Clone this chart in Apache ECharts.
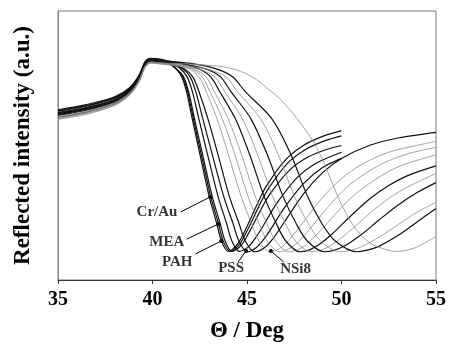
<!DOCTYPE html>
<html>
<head>
<meta charset="utf-8">
<script src="https://cdn.jsdelivr.net/npm/echarts@6/dist/echarts.min.js"></script>
<style>
  html, body { margin: 0; padding: 0; background: #fff; }
  #chart { width: 449px; height: 348px; }
</style>
</head>
<body>
<div id="chart"></div>
<script>
// angle (deg) vs reflected intensity (a.u., 0-100)
const crAu = [[35,62.7],[36.5,64.6],[38,67.6],[38.8,71.2],[39.3,75.8],[39.6,80.7],[39.9,82.1],[40.4,81.8],[40.9,80.6],[41.25,78.6],[41.55,75.5],[41.8,70],[42.1,60],[42.5,47],[43.0,31],[43.4,21],[43.65,14.5],[44.0,10.6],[44.5,13.3],[45,19.9],[45.5,27.6],[46,34.6],[47,44.4],[48,50.1],[49,53.4],[50,55.5]]
const mea = [[35,62.1],[36.5,64.0],[38,67.0],[38.8,70.7],[39.3,75.4],[39.6,80.4],[39.9,81.8],[40.4,81.5],[40.9,80.5],[41.24,78.5],[41.6,75.5],[41.86,70],[42.16,60],[42.57,47],[43.08,31],[43.49,21],[43.74,14.5],[44.1,10.6],[44.6,13.2],[45.1,19.6],[45.6,27],[46.1,33.6],[47.1,43.1],[48.1,48.5],[49.1,51.7],[50,53.6]]
const pah = [[35,61.2],[36.5,63.1],[38,66.2],[38.8,70.0],[39.3,74.8],[39.6,79.8],[39.9,81.4],[40.4,81.1],[40.9,80.3],[41.29,78.3],[41.65,75.5],[41.91,70],[42.22,60],[42.64,47],[43.16,31],[43.58,21],[43.84,14.5],[44.2,10.6],[44.7,13],[45.2,18.9],[45.7,25.7],[46.2,31.8],[47.2,40.5],[48.2,45.6],[49.2,48.5],[50,50]]
const curve4 = [[35,63.3],[36.5,65.2],[38,68.1],[38.8,71.6],[39.3,76.3],[39.6,81.1],[39.9,82.4],[40.4,82.1],[40.9,81],[41.43,78.8],[41.83,75.5],[42.11,70],[42.45,60],[42.9,47],[43.47,31],[43.92,21],[44.2,14.5],[44.6,10.6],[45.1,12.5],[45.6,17.2],[46.1,23.1],[46.6,28.8],[47.6,37.7],[48.6,43.2],[50,47.5]]
const pss = [[35,60.5],[36.5,62.4],[38,65.6],[38.8,69.4],[39.3,74.3],[39.6,79.4],[39.9,81.0],[40.4,80.7],[40.9,80.2],[41.56,78.6],[41.99,75.5],[42.29,70],[42.66,60],[43.15,47],[43.77,31],[44.26,21],[44.57,14.5],[45.0,10.5],[45.5,12.1],[46,16.2],[46.5,21.6],[47,27.1],[48,35.9],[49,41.8],[50,45.2]]
const curve6 = [[35,61.8],[36.5,63.7],[38,66.8],[38.8,70.4],[39.3,75.2],[39.6,80.2],[39.9,81.6],[40.4,81.3],[41.0,80.4],[41.66,78.6],[42.13,75.5],[42.46,70],[42.93,60],[43.45,47],[44.07,31],[44.58,21],[44.91,14.5],[45.4,10.5],[45.9,11.9],[46.4,15.6],[47,21.8],[48,32.1],[49,39.9],[50,45.2],[51.5,50.1],[53,52.8],[55,54.9]]
const nsi8 = [[35,60.0],[36.5,61.9],[38,65.1],[38.8,69.0],[39.3,73.9],[39.6,79.1],[39.9,80.7],[40.4,80.4],[41.1,79.8],[41.93,78.5],[42.46,75.5],[42.84,70],[43.41,60],[44.0,47],[44.69,31],[45.24,21],[45.63,14.5],[46.2,10.5],[46.7,11.6],[47.2,14.6],[48,21.7],[49,30.7],[50,37.7],[51,42.7],[52.5,47.5],[55,51.5]]
const curve8 = [[35,62.4],[36.5,64.3],[38,67.3],[38.8,70.9],[39.3,75.6],[39.6,80.5],[39.9,82.0],[40.4,81.6],[41.2,80.6],[42.05,78.6],[42.63,75.5],[43.04,70],[43.69,60],[44.34,47],[45.06,31],[45.64,21],[46.07,14.5],[46.7,10.5],[47.2,11.5],[47.7,14.1],[48.5,20.5],[49.5,28.9],[50.5,35.8],[52,42.7],[53.5,46.9],[55,49.3]]
const curve9 = [[35,60.9],[36.5,62.8],[38,66.0],[38.8,69.7],[39.3,74.6],[39.6,79.6],[39.9,81.2],[40.4,80.9],[41.3,79.9],[42.21,78.3],[42.83,75.5],[43.27,70],[44.0,60],[44.69,47],[45.44,31],[46.05,21],[46.52,14.5],[47.2,10.5],[47.7,11.3],[48.2,13.6],[49,19.2],[50,27],[51,33.5],[52.5,40.4],[53.5,43.4],[55,46.5]]
const curve10 = [[35,62.9],[36.5,64.8],[38,67.8],[38.8,71.3],[39.3,76.0],[39.6,80.8],[39.9,82.2],[40.4,81.9],[41.4,80.8],[42.41,78.6],[43.08,75.5],[43.56,70],[44.38,60],[45.12,47],[45.91,31],[46.55,21],[47.05,14.5],[47.8,10.5],[48.3,11.2],[48.8,13.1],[49.5,17.1],[50.5,23.9],[51.5,30.2],[52.5,35.1],[53.5,38.8],[55,42.4]]
const curve11 = [[35,59.7],[36.5,61.6],[38,64.9],[38.8,68.8],[39.3,73.7],[39.6,78.9],[39.9,80.6],[40.4,80.3],[41.5,79.5],[42.58,78.1],[43.3,75.5],[43.82,70],[44.75,60],[45.54,47],[46.36,31],[47.03,21],[47.57,14.5],[48.4,10.5],[48.9,11.1],[49.5,13.1],[50.5,18.6],[51.5,24.8],[52.5,30.3],[53.5,34.6],[55,39.6]]
const curve12 = [[35,61.5],[36.5,63.4],[38,66.5],[38.8,70.2],[39.3,75.0],[39.6,80.0],[39.9,81.5],[40.4,81.2],[41.6,80.3],[42.82,78.5],[43.6,75.5],[44.15,70],[45.2,60],[46.05,47],[46.91,31],[47.6,21],[48.19,14.5],[49.1,10.5],[49.6,11],[50.2,12.8],[51,16.6],[52,22.4],[53,27.9],[54,32.5],[55,36.2]]
const curve13 = [[35,60.3],[36.5,62.2],[38,65.4],[38.8,69.2],[39.3,74.2],[39.6,79.3],[39.9,80.9],[40.4,80.6],[41.7,79.7],[43.04,78.1],[43.89,75.5],[44.49,70],[45.71,60],[46.63,47],[47.51,31],[48.24,21],[48.89,14.5],[49.9,10.5],[50.4,10.9],[51,12.2],[52,16],[53,20.6],[54,25.2],[55,28.9]]
const curve14 = [[35,62.2],[36.5,64.1],[38,67.1],[38.8,70.8],[39.3,75.5],[39.6,80.4],[39.9,81.9],[40.4,81.5],[41.9,80.6],[43.33,78.6],[44.25,75.5],[44.91,70],[46.31,60],[47.3,47],[48.21,31],[48.96,21],[49.67,14.5],[50.8,10.5],[51.3,11],[52,12.6],[53,16.6],[54,21.6],[55,26.6]]
const curve15 = [[35,60.6],[36.5,62.5],[38,65.7],[38.8,69.5],[39.3,74.4],[39.6,79.5],[39.9,81.0],[40.4,80.7],[41.5,80.4],[42.6,80.0],[43.7,79.3],[44.7,77.5],[45.5,74.5],[46.2,70.5],[46.8,67],[47.7,59.5],[48.55,51],[49.1,43],[49.9,29.5],[50.65,20],[51.5,13.8],[52.4,11.2],[52.9,10.6],[53.4,11],[54,12.3],[55,16.2]]

const curves = [crAu, mea, pah, curve4, pss, curve6, nsi8, curve8, curve9, curve10, curve11, curve12, curve13, curve14, curve15]
const thinCurves = [7, 8, 9, 11, 13, 15] // 1-based, drawn as light grey lines

// annotations: label name, label centre, pointer start, pointer tip (data units)
const labelNames = ['Cr/Au', 'MEA', 'PAH', 'PSS', 'NSi8']
const labelAt = [[40.24, 25.3], [40.76, 14.1], [41.31, 6.7], [44.16, 4.5], [47.57, 4.1]]
const pointerFrom = [[41.49, 25.3], [41.81, 15.2], [42.28, 9.7], [44.53, 6.7], [46.94, 6.7]]
const pointerTo = [[43.06, 30.9], [43.48, 20.8], [43.64, 14.5], [44.95, 10.8], [46.26, 10.8]]

const xTicks = [35, 40, 45, 50, 55]

const serif = '"Liberation Serif", "Times New Roman", serif'

const chart = echarts.init(document.getElementById('chart'))

const series = curves.map((c, i) => {
  const thin = thinCurves.indexOf(i + 1) >= 0
  return {
    type: 'line',
    data: c,
    smooth: 0.3,
    showSymbol: false,
    symbol: 'none',
    silent: true,
    lineStyle: {
      color: thin ? '#8c8c8c' : '#111',
      width: thin ? 0.8 : 1.2
    }
  }
})

labelNames.forEach((name, i) => {
  series.push({
    type: 'line',
    data: [pointerFrom[i], pointerTo[i]],
    symbol: 'circle',
    symbolSize: (v, p) => (p.dataIndex === 1 ? 4 : 0),
    showAllSymbol: true,
    itemStyle: { color: '#000' },
    lineStyle: { color: '#000', width: 1 },
    silent: true
  })
  series.push({
    type: 'scatter',
    data: [{ value: labelAt[i], name: name }],
    symbolSize: 0,
    label: {
      show: true,
      position: 'inside',
      formatter: '{b}',
      color: '#000',
      fontFamily: serif,
      fontWeight: 'bold',
      fontSize: 15
    },
    silent: true
  })
})

chart.setOption({
  animation: false,
  backgroundColor: '#fff',
  grid: {
    left: 58,
    right: 9,
    top: 11,
    bottom: 68,
    show: true,
    borderColor: '#777',
    borderWidth: 1
  },
  xAxis: {
    type: 'value',
    min: xTicks[0],
    max: xTicks[xTicks.length - 1],
    interval: 5,
    name: 'Θ / Deg',
    nameLocation: 'middle',
    nameGap: 40,
    nameTextStyle: { fontFamily: serif, fontWeight: 'bold', fontSize: 23, color: '#000' },
    axisLine: { lineStyle: { color: '#333', width: 1 } },
    axisTick: { show: true, inside: false, length: 4, lineStyle: { color: '#333' } },
    axisLabel: { margin: 10, fontFamily: serif, fontWeight: 'bold', fontSize: 20, color: '#000' },
    splitLine: { show: false }
  },
  yAxis: {
    type: 'value',
    min: 0,
    max: 100,
    name: 'Reflected intensity (a.u.)',
    nameLocation: 'middle',
    nameGap: 23,
    nameTextStyle: { fontFamily: serif, fontWeight: 'bold', fontSize: 23, color: '#000' },
    axisLine: { show: true, lineStyle: { color: '#888', width: 1 } },
    axisTick: { show: false },
    axisLabel: { show: false },
    splitLine: { show: false }
  },
  series: series
})
</script>
</body>
</html>
